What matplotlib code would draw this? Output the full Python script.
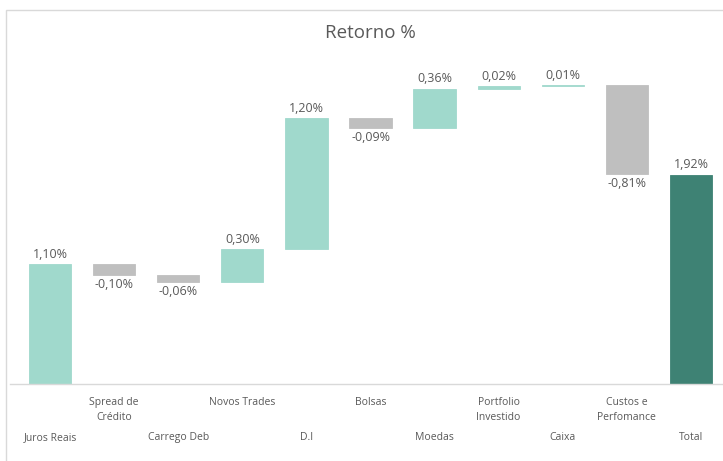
import matplotlib.pyplot as plt
import numpy as np
from matplotlib.patches import Rectangle
from matplotlib.lines import Line2D

# --- DATA ---
categories = ['Juros Reais', 'Spread de\nCrédito', 'Carrego Deb', 'Novos Trades', 'D.I',
              'Bolsas', 'Moedas', 'Portfolio\nInvestido', 'Caixa', 'Custos e\nPerfomance', 'Total']
deltas = [1.10, -0.10, -0.06, 0.30, 1.20, -0.09, 0.36, 0.02, 0.01, -0.81]
total = 1.92
value_labels = ['1,10%', '-0,10%', '-0,06%', '0,30%', '1,20%', '-0,09%', '0,36%',
                '0,02%', '0,01%', '-0,81%', '1,92%']

POS = '#A0D9CC'
NEG = '#BFBFBF'
TOT = '#3E8274'
TXT = '#595959'

plt.rcParams['font.family'] = ['Open Sans', 'DejaVu Sans']

fig = plt.figure(figsize=(7.23, 4.61), dpi=100)
ax = fig.add_axes([18 / 723, 77 / 461, 705 / 723, 327 / 461])

# waterfall bottoms
ends = np.cumsum(deltas)
starts = ends - np.array(deltas)
x = np.arange(len(categories))
bottoms = list(np.minimum(starts, ends)) + [0]
heights = list(np.abs(deltas)) + [total]
colors = [POS if d > 0 else NEG for d in deltas] + [TOT]

# thin edge in same colour keeps tiny bars (Caixa) visibly teal
ax.bar(x, heights, bottom=bottoms, width=0.66, color=colors, edgecolor=colors, linewidth=0.6)

for i in range(len(categories)):
    if i < len(deltas) and deltas[i] < 0:
        ax.text(x[i], bottoms[i] - 0.03, value_labels[i], ha='center', va='top',
                fontsize=9, color=TXT)
    else:
        ax.text(x[i], bottoms[i] + heights[i] + 0.03, value_labels[i], ha='center',
                va='bottom', fontsize=9, color=TXT)

ax.set_xlim(-0.5, len(categories) - 0.5)
ax.set_ylim(0, 3.0)
ax.axis('off')

# staggered category labels
for i, lab in enumerate(categories):
    if i % 2 == 1:
        ax.text(x[i], -0.12, lab, ha='center', va='top', fontsize=7.5, color=TXT,
                linespacing=1.5)
    else:
        ax.text(x[i], -0.49, lab, ha='center', va='center', fontsize=7.5, color=TXT)

fig.text(370 / 723, 1 - 33 / 461, 'Retorno %', ha='center', va='center',
         fontsize=13.5, color=TXT)

# baseline and chart frame
fig.add_artist(Line2D([10 / 723, 1], [77 / 461, 77 / 461], color='#D9D9D9', lw=1))
fig.add_artist(Rectangle((6 / 723, -0.05), 1.1, (461 - 10) / 461 + 0.05, fill=False,
                         edgecolor='#D9D9D9', lw=1))

fig.savefig('out.png', dpi=100)
